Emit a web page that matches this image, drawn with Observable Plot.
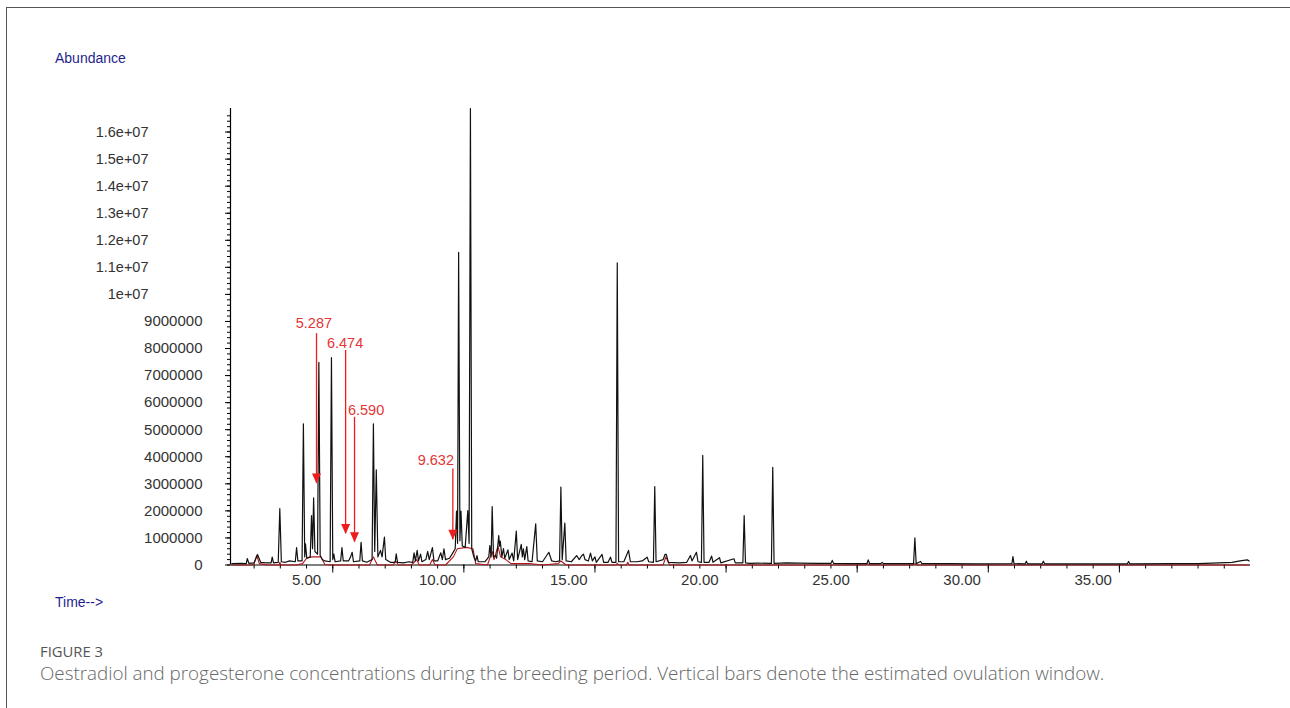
<!DOCTYPE html>
<html>
<head>
<meta charset="utf-8">
<script src="https://cdn.jsdelivr.net/npm/d3@7"></script>
<script src="https://cdn.jsdelivr.net/npm/@observablehq/plot@0.6"></script>
<style>
  html, body { margin: 0; padding: 0; background: #fff; }
  body { width: 1290px; height: 708px; overflow: hidden; position: relative; font-family: "Liberation Sans", Arial, sans-serif; }
  #frame { position: absolute; left: 6px; top: 7px; width: 1300px; height: 720px; border-left: 1.5px solid #555; border-top: 1.5px solid #555; }
  #chart { position: absolute; left: 0; top: 0; }
  .axt { position: absolute; color: #1f1f8f; font-size: 14px; line-height: 16px; font-family: "Liberation Sans", Arial, sans-serif; }
  #fig { position: absolute; left: 40px; top: 642px; font-family: "Open Sans", sans-serif; font-size: 14.8px; color: #555; line-height: 18px; }
  #cap { position: absolute; left: 40px; top: 660px; font-family: "Open Sans", sans-serif; font-weight: 300; font-size: 18.8px; color: #666; line-height: 26px; white-space: nowrap; }
</style>
</head>
<body>
<div id="frame"></div>
<div id="chart"></div>
<div class="axt" style="left:55px; top:50px;">Abundance</div>
<div class="axt" style="left:55px; top:594px;">Time--&gt;</div>
<div id="fig">FIGURE 3</div>
<div id="cap">Oestradiol and progesterone concentrations during the breeding period. Vertical bars denote the estimated ovulation window.</div>
<script>
// Black trace (TIC): retention time (min) and abundance (millions)
const blackTime = [2.15,2.5,2.70,2.74,2.80,3.0,3.13,3.25,3.45,3.65,3.69,3.74,3.92,3.98,4.04,4.2,4.35,4.57,4.62,4.67,4.83,4.88,4.93,4.96,5.01,5.14,5.19,5.23,5.27,5.32,5.42,5.47,5.52,5.6,5.7,5.90,5.95,6.00,6.04,6.09,6.30,6.35,6.40,6.6,6.68,6.74,6.79,7.03,7.08,7.13,7.3,7.50,7.55,7.60,7.66,7.72,7.82,7.88,7.97,8.02,8.2,8.38,8.42,8.47,8.7,8.9,9.05,9.10,9.15,9.22,9.27,9.35,9.40,9.55,9.62,9.68,9.80,9.86,10.0,10.12,10.18,10.24,10.3,10.45,10.55,10.67,10.72,10.76,10.80,10.85,10.89,10.94,11.05,11.15,11.20,11.25,11.30,11.38,11.45,11.5,11.55,11.8,11.95,11.99,12.04,12.08,12.13,12.2,12.25,12.33,12.36,12.39,12.45,12.51,12.56,12.68,12.73,12.84,12.9,13.0,13.05,13.19,13.23,13.27,13.32,13.40,13.45,13.6,13.74,13.8,14.0,14.24,14.35,14.5,14.65,14.70,14.75,14.85,14.9,15.1,15.3,15.4,15.5,15.56,15.62,15.75,15.83,15.9,16.0,16.05,16.27,16.33,16.5,16.59,16.65,16.80,16.85,16.90,17.1,17.2,17.28,17.35,17.6,17.8,17.99,18.05,18.23,18.28,18.33,18.6,18.67,18.72,18.8,19.2,19.5,19.64,19.7,19.87,19.93,20.06,20.11,20.16,20.35,20.45,20.5,20.75,20.8,21.30,21.35,21.64,21.69,21.74,21.9,22.2,22.73,22.78,22.83,23.3,23.8,24.5,25.0,25.05,25.1,25.6,26.37,26.42,26.48,26.9,26.95,27.0,28.15,28.20,28.25,28.42,28.47,29.5,30.5,31.90,31.94,31.98,32.40,32.45,32.5,33.05,33.10,33.15,34.5,36.30,36.35,36.4,38.0,39.0,39.8,40.3,40.6,40.88,40.95];
const blackAbund = [0.05,0.06,0.05,0.24,0.06,0.08,0.39,0.10,0.08,0.08,0.29,0.08,0.10,2.08,0.12,0.10,0.15,0.12,0.64,0.15,0.15,5.22,0.30,0.78,0.25,0.30,1.83,0.60,2.48,0.50,0.40,7.49,0.35,0.20,0.15,0.12,7.66,0.20,0.40,0.12,0.15,0.64,0.15,0.15,0.30,0.47,0.12,0.15,0.84,0.15,0.10,0.20,5.22,0.50,3.52,0.30,0.54,0.30,1.03,0.20,0.10,0.10,0.41,0.10,0.08,0.12,0.10,0.45,0.15,0.54,0.15,0.40,0.12,0.20,0.50,0.20,0.64,0.15,0.15,0.45,0.20,0.60,0.20,0.25,0.40,0.60,1.99,0.80,11.55,0.90,1.99,0.70,0.65,2.01,0.80,16.87,0.60,0.30,0.15,0.35,0.12,0.12,0.30,0.72,0.30,2.16,0.30,0.35,0.25,1.09,0.70,0.88,0.30,0.61,0.25,0.56,0.20,0.44,0.15,1.25,0.20,0.76,0.30,0.60,0.20,0.68,0.15,0.12,1.52,0.15,0.12,0.47,0.15,0.12,0.15,2.88,0.20,1.55,0.15,0.12,0.35,0.20,0.35,0.40,0.20,0.15,0.44,0.15,0.30,0.10,0.39,0.10,0.10,0.29,0.10,0.10,11.17,0.12,0.12,0.35,0.54,0.12,0.12,0.15,0.29,0.12,0.10,2.90,0.12,0.20,0.39,0.39,0.10,0.08,0.10,0.35,0.15,0.47,0.12,0.10,4.05,0.10,0.10,0.33,0.10,0.27,0.08,0.23,0.08,0.08,1.83,0.08,0.06,0.07,0.06,3.61,0.06,0.08,0.07,0.06,0.06,0.17,0.06,0.05,0.05,0.19,0.05,0.05,0.10,0.05,0.05,1.00,0.05,0.13,0.05,0.05,0.04,0.05,0.31,0.05,0.04,0.14,0.04,0.04,0.14,0.04,0.04,0.04,0.13,0.04,0.05,0.05,0.08,0.10,0.15,0.19,0.15];

// Red trace (overlay): retention time (min) and abundance (millions)
const redTime = [2.15,2.9,3.0,3.1,3.2,3.5,3.95,3.98,4.02,4.6,4.85,5.0,5.2,5.55,5.7,5.95,7.4,7.55,7.7,8.3,8.4,8.5,9.0,9.2,9.3,9.7,9.8,9.9,10.3,10.6,10.75,11.1,11.35,11.45,11.9,12.08,12.15,12.3,12.4,12.6,12.8,13.5,14.0,14.6,14.7,14.9,16.8,16.85,16.9,17.2,17.25,17.3,18.6,18.7,18.85,26.3,26.4,26.5,28.1,28.2,28.3,40.95];
const redAbund = [0,0,0.05,0.35,0.05,0,0,0.10,0,0,0.05,0.25,0.30,0.30,0.02,0,0,0.30,0,0,0.15,0,0,0.20,0,0,0.20,0,0,0.30,0.60,0.65,0.60,0.05,0,0.50,0.20,0.70,0.30,0.20,0.05,0.05,0,0.05,0.15,0,0,0.06,0,0,0.10,0,0,0.30,0,0,0.05,0,0,0.05,0,0];

// Annotations (retention time labels with arrows)
const annLabels = ["5.287", "6.474", "6.590", "9.632"];
const annLabelX = [5.28, 6.47, 7.27, 9.93];
const annLabelY = [8.92, 8.19, 5.71, 3.86];
const annArrowX = [5.38, 6.49, 6.83, 10.58];
const annArrowTop = [8.55, 7.93, 5.46, 3.55];
const annArrowTip = [3.01, 1.15, 0.84, 0.93];

// Axis ticks
const yLabelLow = [0,1,2,3,4,5,6,7,8,9].map(v => v * 1e6);
const yLabelHigh = [10,11,12,13,14,15,16].map(v => v * 1e6);
const yMinor = d3.range(0, 84).map(i => i * 2e5);
const xLabels = [5,10,15,20,25,30,35];
const xMinor = d3.range(3, 41);
const xMajor = [6,11,16,21,26,31,36];

const black = blackTime.map((t, i) => ({t, v: blackAbund[i] * 1e6}));
const red = redTime.map((t, i) => ({t, v: redAbund[i] * 1e6}));
const ann = annLabels.map((label, i) => ({
  label, lx: annLabelX[i], ly: annLabelY[i] * 1e6,
  ax: annArrowX[i], top: annArrowTop[i] * 1e6, tip: annArrowTip[i] * 1e6
}));

const downTri = { draw(ctx) { ctx.moveTo(-4.5, -10); ctx.lineTo(4.5, -10); ctx.lineTo(0, 0); ctx.closePath(); } };
const RED = "#ee1c1c";
const LABEL = "#333";

const chart = Plot.plot({
  width: 1290,
  height: 600,
  marginLeft: 230,
  marginRight: 40,
  marginTop: 108,
  marginBottom: 35.5,
  x: { domain: [2.1, 41] },
  y: { domain: [0, 16.87e6] },
  style: { background: "transparent", fontFamily: "'Liberation Sans', Arial, sans-serif", fontSize: "14px", color: LABEL },
  marks: [
    Plot.axisY(yMinor, { anchor: "left", tickSize: 3, tickFormat: () => "", label: null, stroke: "#000" }),
    Plot.axisY(yLabelLow, { anchor: "left", tickSize: 5, tickPadding: 23, tickFormat: d => String(d), label: null, stroke: "#000", fill: LABEL, fontSize: 15 }),
    Plot.axisY(yLabelHigh, { anchor: "left", tickSize: 5, tickPadding: 77, tickFormat: d => `${+(d / 1e7).toFixed(1)}e+07`, label: null, stroke: "#000", fill: LABEL, fontSize: 14.5 }),
    Plot.axisX(xMinor, { anchor: "bottom", tickSize: 4, tickFormat: () => "", label: null, stroke: "#000" }),
    Plot.axisX(xMajor, { anchor: "bottom", tickSize: 8, tickFormat: () => "", label: null, stroke: "#000" }),
    Plot.axisX(xLabels, { anchor: "bottom", tickSize: 0, tickPadding: 9, tickFormat: d => d.toFixed(2), label: null, fill: LABEL, fontSize: 15 }),
    Plot.ruleX([2.1], { y1: 0, y2: 16.87e6, stroke: "#000", strokeWidth: 1.2 }),
    Plot.ruleY([0], { stroke: "#000", strokeWidth: 1.2 }),
    Plot.line(red, { x: "t", y: "v", stroke: "#b3161b", strokeWidth: 1.1 }),
    Plot.line(black, { x: "t", y: "v", stroke: "#111", strokeWidth: 1.2 }),
    Plot.ruleX(ann, { x: "ax", y1: "top", y2: "tip", stroke: RED, strokeWidth: 1.3 }),
    Plot.dot(ann, { x: "ax", y: "tip", symbol: downTri, fill: RED, stroke: "none", r: 4 }),
    Plot.text(ann, { x: "lx", y: "ly", text: "label", fill: "#e53535", fontSize: 14.5 })
  ]
});
document.getElementById("chart").appendChild(chart);
</script>
</body>
</html>
